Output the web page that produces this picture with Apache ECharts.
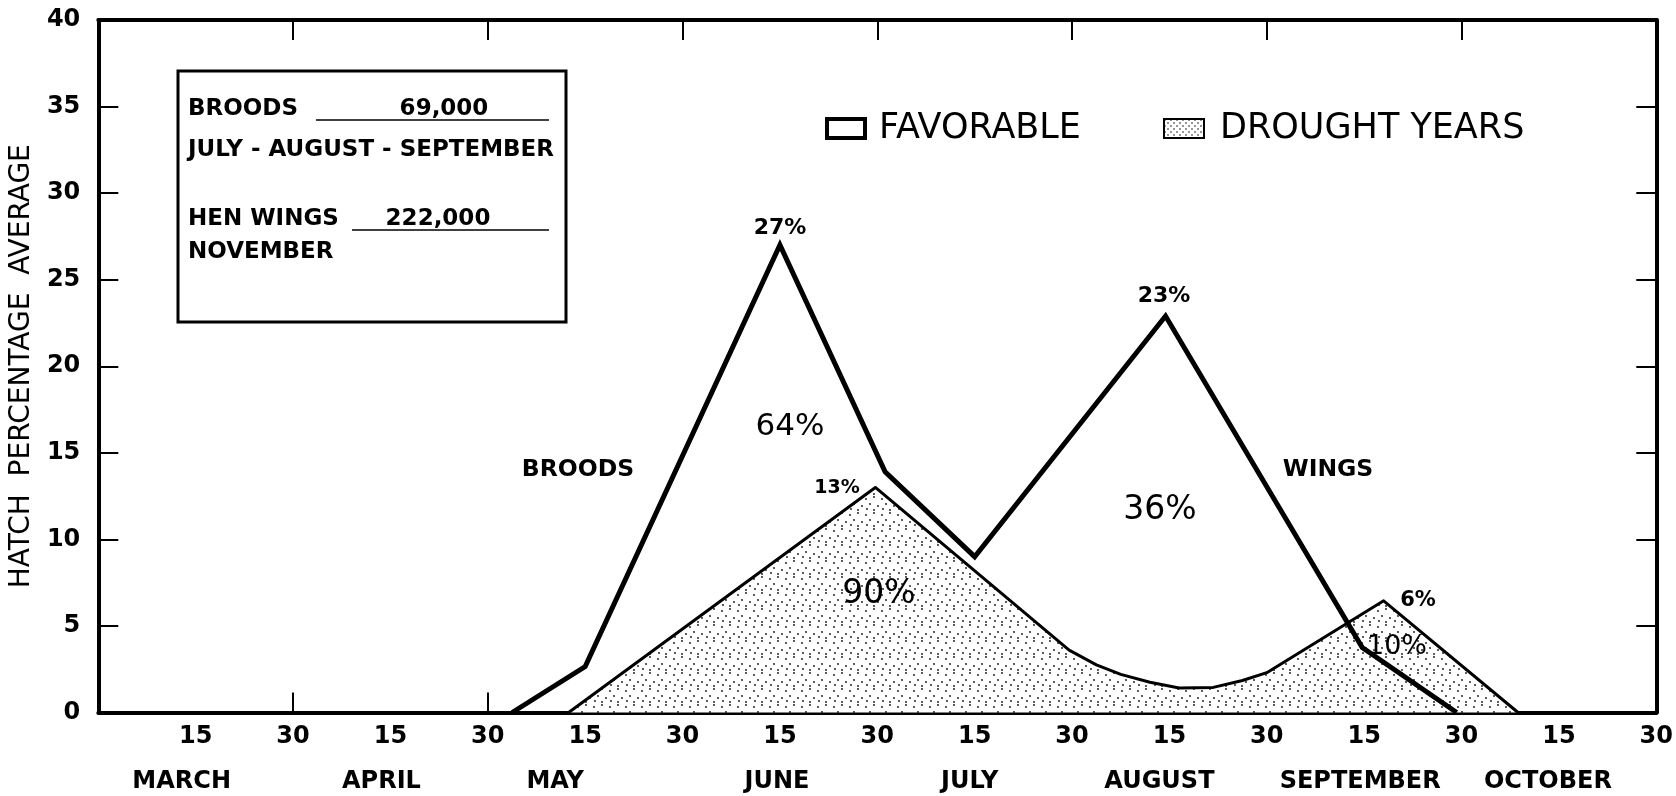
<!DOCTYPE html>
<html>
<head>
<meta charset="utf-8">
<script src="https://cdn.jsdelivr.net/npm/echarts@6/dist/echarts.min.js"></script>
<style>
  html, body { margin: 0; padding: 0; background: #fff; }
  #chart { width: 1676px; height: 796px; }
</style>
</head>
<body>
<div id="chart"></div>
<script>
// x is counted in half months: 0 = start of March, 1 = March 15, 2 = March 30 ... 16 = October 30
const halfMonthLabels = ['', '15', '30', '15', '30', '15', '30', '15', '30', '15', '30', '15', '30', '15', '30', '15', '30'];
const monthNames = ['MARCH', 'APRIL', 'MAY', 'JUNE', 'JULY', 'AUGUST', 'SEPTEMBER', 'OCTOBER'];
// hand lettering sits a little left of the 15th tick (px)
const monthShift = [14, 9, 30, 3, 5, 10, 4, 11];

// favorable years (thick outline)
const favorableX = [4.25, 5.0, 7.0, 8.08, 9.0, 10.96, 12.98, 13.95];
const favorableY = [0, 2.65, 27.0, 13.9, 9.0, 22.9, 3.75, 0];

// drought years (dotted area)
const droughtX = [4.83, 7.98, 9.97, 10.25, 10.5, 10.8, 11.1, 11.45, 11.75, 12.0, 13.2, 14.58];
const droughtY = [0, 13.0, 3.6, 2.75, 2.2, 1.75, 1.42, 1.45, 1.85, 2.3, 6.45, 0];

const FONT = 'DejaVu Sans';

// stipple texture for the drought area
function stipple(size, pts, r) {
  const c = document.createElement('canvas');
  c.width = size; c.height = size;
  const g = c.getContext('2d');
  g.fillStyle = '#fff';
  g.fillRect(0, 0, size, size);
  g.fillStyle = '#111';
  pts.forEach(p => { g.beginPath(); g.arc(p[0], p[1], r, 0, Math.PI * 2); g.fill(); });
  return c;
}
const areaDots = { image: stipple(16, [[2, 3], [10, 1], [6, 8], [14, 10], [3, 13], [10, 14]], 0.9), repeat: 'repeat' };
const legendDots = { image: stipple(6, [[1, 1], [4, 4]], 0.8), repeat: 'repeat' };

const toPairs = (xs, ys) => xs.map((x, i) => [x, ys[i]]);

const chart = echarts.init(document.getElementById('chart'));

const baseX = { type: 'value', min: 0, max: 16, interval: 1, splitLine: { show: false } };
const blackLine = w => ({ show: true, onZero: false, lineStyle: { color: '#000', width: w } });

const monthRich = {};
monthShift.forEach((s, i) => { monthRich['m' + i] = { padding: [0, 2 * s, 0, 0] }; });

const txt = (text, x, y, size, weight, align) => ({
  type: 'text', z: 100,
  style: {
    text, x, y, fill: '#000',
    font: (weight || 'normal') + ' ' + size + 'px "' + FONT + '"',
    textAlign: align || 'center', align: align || 'center',
    textVerticalAlign: 'middle', verticalAlign: 'middle'
  }
});

const option = {
  animation: false,
  backgroundColor: '#fff',
  grid: { left: 98, right: 19, top: 20, bottom: 83.5, containLabel: false },
  legend: [
    {
      data: [{ name: 'FAVORABLE', icon: 'rect', itemStyle: { color: '#fff', borderColor: '#000', borderWidth: 4 } }],
      left: 825, top: 111, padding: 0, itemWidth: 38, itemHeight: 19, selectedMode: false,
      textStyle: { fontFamily: FONT, fontSize: 35, color: '#000', padding: [0, 0, 0, 9] }
    },
    {
      data: [{ name: 'DROUGHT YEARS', icon: 'rect', itemStyle: { color: legendDots, borderColor: '#000', borderWidth: 2 } }],
      left: 1163, top: 111, padding: 0, itemWidth: 40, itemHeight: 19, selectedMode: false,
      textStyle: { fontFamily: FONT, fontSize: 35, color: '#000', padding: [0, 0, 0, 11] }
    }
  ],
  xAxis: [
    Object.assign({}, baseX, {
      position: 'bottom',
      axisLine: blackLine(4),
      axisTick: { show: false },
      axisLabel: {
        showMinLabel: true, showMaxLabel: true, margin: 11,
        fontFamily: FONT, fontSize: 24, fontWeight: 'bold', color: '#000', lineHeight: 26,
        formatter: v => halfMonthLabels[Math.round(v)] || ''
      }
    }),
    Object.assign({}, baseX, {
      position: 'bottom', interval: 2,
      axisLine: { show: false, onZero: false },
      axisTick: { show: true, inside: true, length: 20, lineStyle: { color: '#000', width: 2 } },
      axisLabel: { show: false }
    }),
    Object.assign({}, baseX, {
      position: 'bottom',
      axisLine: { show: false, onZero: false },
      axisTick: { show: false },
      axisLabel: {
        margin: 56, fontFamily: FONT, fontSize: 24, fontWeight: 'bold', color: '#000', lineHeight: 26,
        rich: monthRich,
        formatter: v => {
          const k = Math.round(v);
          if (k % 2 !== 1) return '';
          const i = (k - 1) / 2;
          return '{m' + i + '|' + monthNames[i] + '}';
        }
      }
    }),
    Object.assign({}, baseX, {
      position: 'top', interval: 2,
      axisLine: blackLine(4),
      axisTick: { show: true, inside: true, length: 20, lineStyle: { color: '#000', width: 2 } },
      axisLabel: { show: false }
    })
  ],
  yAxis: [
    {
      type: 'value', min: 0, max: 40, interval: 5, position: 'left',
      axisLine: blackLine(4),
      axisTick: { show: true, inside: true, length: 20, lineStyle: { color: '#000', width: 2 } },
      axisLabel: { margin: 18, fontFamily: FONT, fontSize: 24, fontWeight: 'bold', color: '#000' },
      splitLine: { show: false },
      name: 'HATCH  PERCENTAGE  AVERAGE', nameLocation: 'middle', nameGap: 62,
      nameTextStyle: { fontFamily: FONT, fontSize: 28, color: '#000' }
    },
    {
      type: 'value', min: 0, max: 40, interval: 5, position: 'right',
      axisLine: blackLine(4),
      axisTick: { show: true, inside: true, length: 20, lineStyle: { color: '#000', width: 2 } },
      axisLabel: { show: false },
      splitLine: { show: false }
    }
  ],
  series: [
    {
      name: 'DROUGHT YEARS', type: 'line', xAxisIndex: 0, yAxisIndex: 0,
      data: toPairs(droughtX, droughtY),
      showSymbol: false, z: 2,
      lineStyle: { color: '#000', width: 3, join: 'round' },
      itemStyle: { color: '#000' },
      areaStyle: { color: areaDots, opacity: 1, origin: 'start' }
    },
    {
      name: 'FAVORABLE', type: 'line', xAxisIndex: 0, yAxisIndex: 0,
      data: toPairs(favorableX, favorableY),
      showSymbol: false, z: 3,
      lineStyle: { color: '#000', width: 5, join: 'miter', miterLimit: 10 },
      itemStyle: { color: '#000' }
    }
  ],
  graphic: [
    { type: 'rect', z: 90, shape: { x: 178, y: 71, width: 388, height: 251 },
      style: { fill: '#fff', stroke: '#000', lineWidth: 3 } },
    txt('BROODS', 188, 109, 23, 'bold', 'left'),
    txt('69,000', 444, 109, 23, 'bold'),
    { type: 'line', z: 100, shape: { x1: 316, y1: 120, x2: 549, y2: 120 }, style: { stroke: '#000', lineWidth: 1.5 } },
    txt('JULY - AUGUST - SEPTEMBER', 188, 150, 23, 'bold', 'left'),
    txt('HEN WINGS', 188, 219, 23, 'bold', 'left'),
    txt('222,000', 438, 219, 23, 'bold'),
    { type: 'line', z: 100, shape: { x1: 352, y1: 230, x2: 549, y2: 230 }, style: { stroke: '#000', lineWidth: 1.5 } },
    txt('NOVEMBER', 188, 252, 23, 'bold', 'left'),

    txt('27%', 780, 228, 22, 'bold'),
    txt('23%', 1164, 296, 22, 'bold'),
    txt('64%', 790, 427, 31),
    txt('BROODS', 578, 470, 23.5, 'bold'),
    txt('13%', 837, 488, 19, 'bold'),
    txt('90%', 879, 594, 33),
    txt('36%', 1160, 510, 33),
    txt('WINGS', 1328, 470, 23.5, 'bold'),
    txt('6%', 1418, 601, 21, 'bold'),
    txt('10%', 1397, 647, 27)
  ]
};

chart.setOption(option);
</script>
</body>
</html>
